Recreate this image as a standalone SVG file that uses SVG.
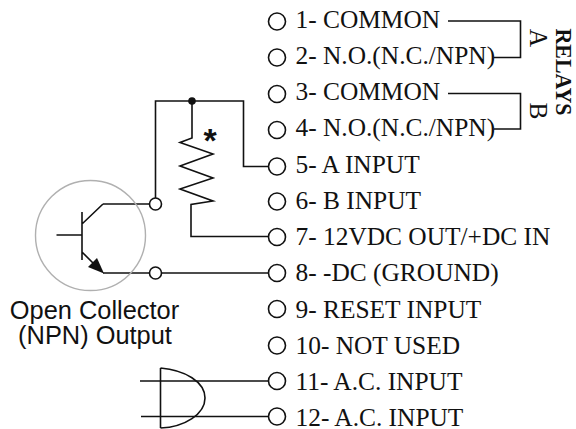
<svg xmlns="http://www.w3.org/2000/svg" width="576" height="429" viewBox="0 0 576 429">
<style>
.w{fill:none;stroke:#111;stroke-width:1.6}
.t{fill:#fff;stroke:#111;stroke-width:1.6}
.l{font-family:"Liberation Serif",serif;font-size:25.400px;fill:#111}
.s{font-family:"Liberation Sans",sans-serif;font-size:25.400px;fill:#111}
</style>
<rect width="576" height="429" fill="#fff"/>
<g id="connectors">
<path class="w" d="M448 21H520.500V57.500H494"/>
<path class="w" d="M448 93.500H520.500V129H494"/>
<path class="w" d="M155.500 203V101H243.500V166.500H269"/>
<path class="w" d="M192 101V138L180 142.500L213 154L180 166L213 178L180 189L213 201L191 204.500V236.500H269"/>
<path class="w" d="M103 273H269"/>
<path class="w" d="M140 381H269M141 416.500H269"/>
<path class="w" d="M103 204H155"/>
</g>
<g id="gate"><path class="w" d="M160.500 368V428M160.500 368C185 370 205 382 205 398C205 414 185 427 160.500 428"/></g>
<g id="transistor">
<circle cx="90.500" cy="235.500" r="55" fill="none" stroke="#b0b0b0" stroke-width="1.400"/>
<path class="w" d="M56.500 235H82M82 212V260M82 224L103 204M82 252L98 268"/>
<path d="M104 273.500L88 267L97 258Z" fill="#111"/>
</g>
<g id="junction"><circle cx="192" cy="101" r="3.800" fill="#111"/></g>
<g id="open1"><circle class="t" cx="155.500" cy="204" r="6"/></g>
<g id="open2"><circle class="t" cx="155.500" cy="273" r="6"/></g>
<g id="asterisk"><text class="s" x="210" y="152" text-anchor="middle" font-weight="bold" style="font-size:34px">*</text></g>
<g id="t1"><circle class="t" cx="277" cy="21.500" r="8.500"/><text class="l" x="295.500" y="28">1- COMMON</text></g>
<g id="t2"><circle class="t" cx="277" cy="57.500" r="8.500"/><text class="l" x="295.500" y="64">2- N.O.(N.C./NPN)</text></g>
<g id="t3"><circle class="t" cx="277" cy="94" r="8.500"/><text class="l" x="295.500" y="100">3- COMMON</text></g>
<g id="t4"><circle class="t" cx="277" cy="130" r="8.500"/><text class="l" x="295.500" y="136">4- N.O.(N.C./NPN)</text></g>
<g id="t5"><circle class="t" cx="277" cy="166.500" r="8.500"/><text class="l" x="295.500" y="173">5- A INPUT</text></g>
<g id="t6"><circle class="t" cx="277" cy="201.500" r="8.500"/><text class="l" x="295.500" y="209">6- B INPUT</text></g>
<g id="t7"><circle class="t" cx="277" cy="237" r="8.500"/><text class="l" x="295.500" y="245">7- 12VDC OUT/+DC IN</text></g>
<g id="t8"><circle class="t" cx="277" cy="273" r="8.500"/><text class="l" x="295.500" y="281">8- -DC (GROUND)</text></g>
<g id="t9"><circle class="t" cx="277" cy="309" r="8.500"/><text class="l" x="295.500" y="317.500">9- RESET INPUT</text></g>
<g id="t10"><circle class="t" cx="277" cy="345.500" r="8.500"/><text class="l" x="295.500" y="354">10- NOT USED</text></g>
<g id="t11"><circle class="t" cx="277" cy="381" r="8.500"/><text class="l" x="295.500" y="390">11- A.C. INPUT</text></g>
<g id="t12"><circle class="t" cx="277" cy="416.500" r="8.500"/><text class="l" x="295.500" y="425.500">12- A.C. INPUT</text></g>
<g id="relayA"><text class="l" transform="translate(530 38) rotate(90)" text-anchor="middle">A</text></g>
<g id="relayB"><text class="l" transform="translate(530 111) rotate(90)" text-anchor="middle">B</text></g>
<g id="relays"><text class="l" transform="translate(556 72) rotate(90)" text-anchor="middle" font-weight="bold" style="font-size:24px" textLength="87" lengthAdjust="spacingAndGlyphs">RELAYS</text></g>
<g id="caption"><text class="s" x="94.500" y="318.500" text-anchor="middle">Open Collector</text><text class="s" x="95" y="344" text-anchor="middle">(NPN) Output</text></g>
</svg>
